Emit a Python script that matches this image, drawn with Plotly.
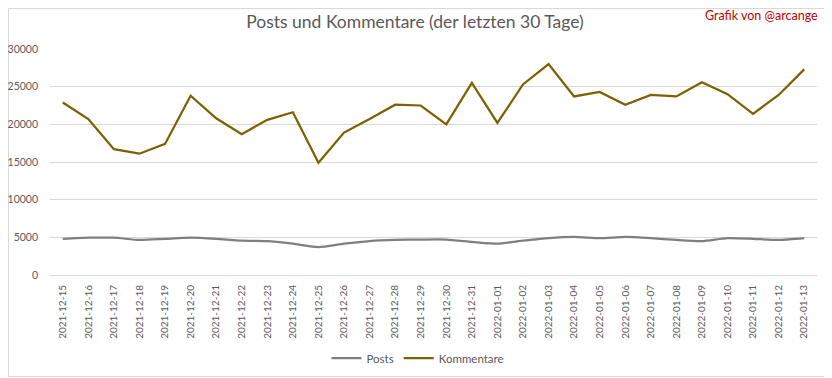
import plotly.graph_objects as go

dates = ["2021-12-15", "2021-12-16", "2021-12-17", "2021-12-18", "2021-12-19",
         "2021-12-20", "2021-12-21", "2021-12-22", "2021-12-23", "2021-12-24",
         "2021-12-25", "2021-12-26", "2021-12-27", "2021-12-28", "2021-12-29",
         "2021-12-30", "2021-12-31", "2022-01-01", "2022-01-02", "2022-01-03",
         "2022-01-04", "2022-01-05", "2022-01-06", "2022-01-07", "2022-01-08",
         "2022-01-09", "2022-01-10", "2022-01-11", "2022-01-12", "2022-01-13"]

posts = [4800, 4950, 4950, 4650, 4800, 4950, 4800, 4550, 4500, 4150,
         3700, 4150, 4500, 4650, 4700, 4700, 4400, 4150, 4550, 4900,
         5050, 4900, 5050, 4900, 4650, 4500, 4900, 4800, 4650, 4900]

kommentare = [22900, 20700, 16700, 16100, 17400, 23800, 20800, 18700, 20600, 21600,
              14900, 18900, 20700, 22600, 22500, 20000, 25500, 20200, 25300, 28000,
              23700, 24300, 22600, 23900, 23700, 25600, 24000, 21400, 23900, 27300]

y_ticks = [0, 5000, 10000, 15000, 20000, 25000, 30000]

FONT = "Lato"
TXT = "#595959"

fig = go.Figure()
fig.add_trace(go.Scatter(x=dates, y=posts, name="Posts", mode="lines",
                         line=dict(color="#7F7F7F", width=2.25, shape="spline", smoothing=0.6)))
fig.add_trace(go.Scatter(x=dates, y=kommentare, name="Kommentare", mode="lines",
                         line=dict(color="#7F6000", width=2.25)))

# The page body has an 8px margin; layout positions below are expressed in
# screen pixels and shifted by OFF so the figure lands where the reference is.
OFF = 8
W, H = 832, 378
PL, PR, PT, PB = 50, 817, 49, 275          # plot area in screen pixels
L, T = PL - OFF, PT - OFF
R = W - (PR - OFF)
B = H - (PB - OFF)
pw, ph = W - L - R, H - T - B

def px_x(x):
    return (x - OFF - L) / pw

def px_y(y):
    return (H - B - (y - OFF)) / ph

fig.update_layout(
    width=W, height=H,
    margin=dict(l=L, r=R, t=T, b=B, autoexpand=False),
    paper_bgcolor="white", plot_bgcolor="white",
    font=dict(family=FONT, color=TXT, size=11),
    title=dict(text="Posts und Kommentare (der letzten 30 Tage)",
               x=(415 - OFF) / W, xanchor="center", xref="container",
               y=1 - (22 - OFF) / H, yanchor="middle", yref="container",
               font=dict(family=FONT, size=17.5, color=TXT)),
    showlegend=True,
    legend=dict(orientation="h", x=(418 - OFF) / W, xanchor="center", xref="container",
                y=1 - (358 - OFF) / H, yanchor="middle", yref="container",
                font=dict(family=FONT, size=11.5, color=TXT), itemwidth=30,
                bgcolor="rgba(0,0,0,0)"),
    xaxis=dict(type="category", categoryorder="array", categoryarray=dates,
               range=[-0.5, len(dates) - 0.5], tickangle=-90, automargin=False,
               showgrid=False, showline=True, linecolor="#D9D9D9", linewidth=1,
               ticks="", tickfont=dict(family=FONT, size=10, color=TXT), ticklabelstandoff=5),
    yaxis=dict(range=[0, 30000], tickvals=y_ticks, ticktext=[str(v) for v in y_ticks],
               automargin=False,
               showgrid=True, gridcolor="#D9D9D9", gridwidth=1, zeroline=False,
               showline=False, ticks="", tickfont=dict(family=FONT, size=10.5, color=TXT),
               ticklabelstandoff=11),
    annotations=[dict(text="Grafik von @arcange", xref="paper", yref="paper",
                      x=px_x(820), y=px_y(15), xanchor="right", yanchor="middle",
                      showarrow=False, font=dict(family=FONT, size=12.5, color="#C00000"))],
    shapes=[dict(type="rect", xref="paper", yref="paper",
                 x0=px_x(0.5 + OFF), x1=px_x(828.5), y0=px_y(376.5), y1=px_y(0.5 + OFF),
                 line=dict(color="#D9D9D9", width=1), layer="below")],
)

fig.write_html("out.html")
